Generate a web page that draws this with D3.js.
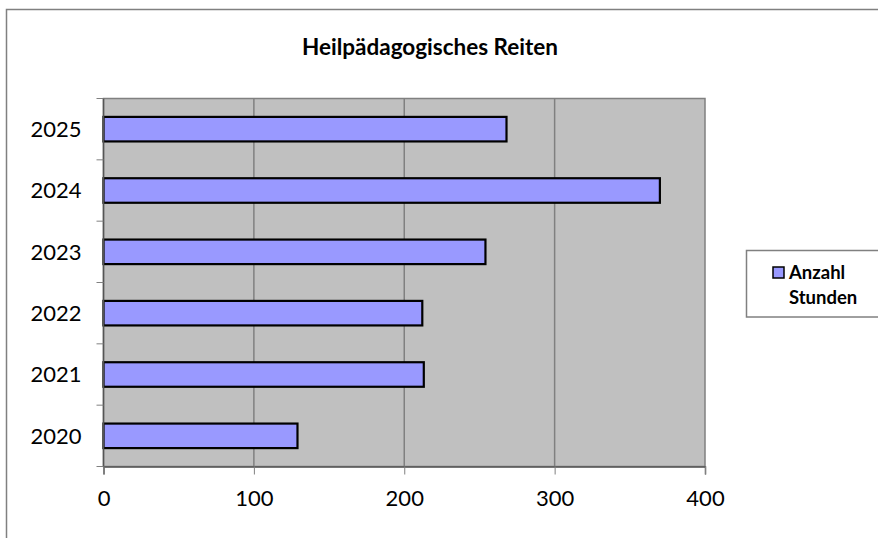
<!DOCTYPE html>
<html>
<head>
<meta charset="utf-8">
<script src="https://cdn.jsdelivr.net/npm/d3@7"></script>
<style>
  html, body { margin: 0; padding: 0; background: #fff; }
  svg { display: block; font-family: Lato, "Open Sans", sans-serif; }
</style>
</head>
<body>
<div id="chart"></div>
<script>
const years = ["2020", "2021", "2022", "2023", "2024", "2025"];
const hours = [129, 213, 212, 254, 370, 268];
const xTicks = [0, 100, 200, 300, 400];
const seriesName = ["Anzahl", "Stunden"];
const title = "Heilpädagogisches Reiten";

const W = 878, H = 538;
const plot = { left: 103.5, top: 98.5, right: 705, bottom: 466.5 };

const svg = d3.select("#chart").append("svg")
  .attr("width", W)
  .attr("height", H);

// outer chart frame (partly cut off at right/bottom)
svg.append("rect")
  .attr("x", 6.5).attr("y", 9.5)
  .attr("width", W + 10).attr("height", H + 10)
  .attr("fill", "#fff")
  .attr("stroke", "#808080")
  .attr("stroke-width", 1.5);

const x = d3.scaleLinear().domain([0, 400]).range([plot.left, plot.right]);
const y = d3.scaleBand().domain(years.slice().reverse()).range([plot.top, plot.bottom]).paddingInner(0.6).paddingOuter(0.3);

// plot background
svg.append("rect")
  .attr("x", plot.left).attr("y", plot.top)
  .attr("width", plot.right - plot.left).attr("height", plot.bottom - plot.top)
  .attr("fill", "#c0c0c0")
  .attr("stroke", "#808080")
  .attr("stroke-width", 1.5);

// vertical gridlines
svg.append("g")
  .selectAll("line")
  .data(xTicks.slice(1, -1))
  .join("line")
  .attr("x1", d => x(d)).attr("x2", d => x(d))
  .attr("y1", plot.top).attr("y2", plot.bottom)
  .attr("stroke", "#808080")
  .attr("stroke-width", 1.5);

// bars
svg.append("g")
  .selectAll("rect")
  .data(years.map((yr, i) => ({ yr, v: hours[i] })))
  .join("rect")
  .attr("x", x(0))
  .attr("y", d => y(d.yr))
  .attr("width", d => x(d.v) - x(0))
  .attr("height", y.bandwidth())
  .attr("fill", "#9999ff")
  .attr("stroke", "#000")
  .attr("stroke-width", 2.2);

// x axis
const xAxis = svg.append("g")
  .attr("transform", `translate(0,${plot.bottom})`)
  .call(d3.axisBottom(x).tickValues(xTicks).tickSize(8).tickPadding(16));
xAxis.select(".domain").attr("stroke", "#555").attr("stroke-width", 1.5);
xAxis.selectAll(".tick line").attr("stroke", "#808080");
xAxis.selectAll("text").attr("font-size", 22).attr("fill", "#000").attr("font-family", "Lato");

// y axis: ticks between categories
const yOuter = d3.scaleLinear().domain([0, years.length]).range([plot.bottom, plot.top]);
const yAxis = svg.append("g").attr("transform", `translate(${plot.left},0)`);
yAxis.append("line")
  .attr("y1", plot.top).attr("y2", plot.bottom)
  .attr("stroke", "#555").attr("stroke-width", 1.5);
yAxis.selectAll(".tk")
  .data(d3.range(years.length + 1))
  .join("line")
  .attr("class", "tk")
  .attr("x1", -7).attr("x2", 0)
  .attr("y1", d => yOuter(d)).attr("y2", d => yOuter(d))
  .attr("stroke", "#808080");
yAxis.selectAll("text")
  .data(years)
  .join("text")
  .attr("x", -22)
  .attr("y", d => y(d) + y.bandwidth() / 2)
  .attr("dy", "0.36em")
  .attr("text-anchor", "end")
  .attr("font-size", 22)
  .text(d => d);

// title
svg.append("text")
  .attr("x", 430).attr("y", 55)
  .attr("text-anchor", "middle")
  .attr("font-size", 22.5)
  .attr("font-weight", "bold")
  .text(title);

// legend
const lg = svg.append("g");
lg.append("rect")
  .attr("x", 746.5).attr("y", 250.5)
  .attr("width", 150).attr("height", 66.5)
  .attr("fill", "#fff")
  .attr("stroke", "#808080")
  .attr("stroke-width", 1.5);
lg.append("rect")
  .attr("x", 773).attr("y", 267)
  .attr("width", 11).attr("height", 11)
  .attr("fill", "#9999ff")
  .attr("stroke", "#000")
  .attr("stroke-width", 1.5);
lg.selectAll("text")
  .data(seriesName)
  .join("text")
  .attr("x", 789)
  .attr("y", (d, i) => 279 + i * 25)
  .attr("font-size", 18.5)
  .attr("font-weight", "bold")
  .text(d => d);
</script>
</body>
</html>
